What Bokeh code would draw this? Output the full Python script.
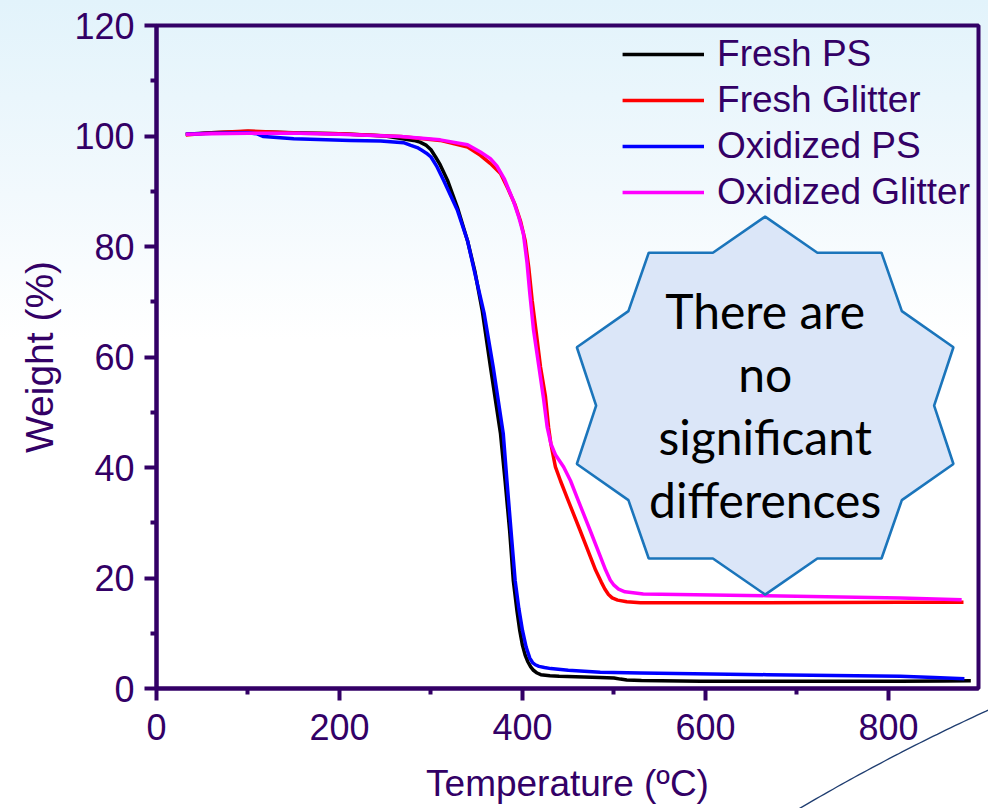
import base64
import numpy as np
from bokeh.plotting import figure
from bokeh.models import Range1d, FixedTicker, Legend, LegendItem
from bokeh.core.properties import value
from bokeh.embed import file_html
from bokeh.resources import INLINE

# ---------------- data ----------------
fresh_ps_t = [32, 60, 100, 150, 200, 250, 281, 288, 295, 300, 305, 310, 318, 329, 340, 348, 356, 365,
              372, 376, 381, 386, 390, 394, 397, 400, 403, 406, 409, 412, 416, 420, 430, 440, 485, 500,
              507, 514, 530, 595, 700, 813, 860, 890]
fresh_ps_w = [100.3, 100.6, 100.8, 100.6, 100.4, 100.0, 99.2, 98.9, 98.3, 97.5, 96.2, 94.8, 92.0, 87.0,
              81.0, 75.5, 68.4, 58.2, 50.5, 46.1, 37.6, 28.5, 19.5, 14.0, 10.5, 7.8, 6.0, 4.8, 3.9, 3.3,
              2.8, 2.5, 2.3, 2.2, 2.0, 1.9, 1.7, 1.55, 1.45, 1.3, 1.3, 1.3, 1.35, 1.4]

fresh_gl_t = [32, 60, 100, 157, 200, 267, 310, 340, 354, 365, 376, 384, 392, 398, 403, 407, 410.6, 415,
              419.7, 425, 428.5, 431, 436, 441.5, 450, 463, 480, 486, 490, 494, 498, 504, 514, 529, 667,
              813, 882]
fresh_gl_w = [100.2, 100.6, 100.9, 100.5, 100.4, 99.9, 99.2, 98.0, 96.5, 95.0, 93.2, 90.5, 87.5, 84.5,
              81.0, 76.0, 70.2, 64.5, 58.2, 53.0, 47.3, 44.3, 40.1, 37.6, 34.0, 28.6, 21.4, 19.3, 18.0,
              17.0, 16.4, 16.0, 15.7, 15.5, 15.5, 15.6, 15.6]

oxid_ps_t = [32, 60, 100, 110, 117, 150, 212, 245, 270, 278, 285, 290, 295, 300, 306, 314, 329, 340, 349,
             358, 368, 379, 383, 388, 392, 396, 400, 404, 408, 411, 414, 418, 424, 431, 450, 485, 529,
             667, 813, 850, 883]
oxid_ps_w = [100.3, 100.5, 100.6, 100.4, 99.9, 99.5, 99.2, 99.1, 98.8, 98.3, 97.9, 97.4, 96.9, 96.2,
             94.6, 91.9, 86.5, 81.0, 74.4, 68.0, 58.2, 46.1, 37.6, 27.5, 19.5, 14.5, 10.5, 7.5, 5.5, 4.7,
             4.3, 4.0, 3.8, 3.6, 3.3, 2.95, 2.8, 2.5, 2.2, 2.0, 1.75]

oxid_gl_t = [32, 60, 100, 157, 200, 267, 310, 340, 354, 365, 372, 380, 390, 396, 401, 405, 408, 412, 418,
             423, 427, 431, 436, 445, 452.5, 461, 474, 491, 496, 500, 505, 512, 532, 667, 813, 880]
oxid_gl_w = [100.3, 100.4, 100.5, 100.5, 100.3, 99.9, 99.3, 98.4, 97.1, 95.9, 94.6, 92.3, 88.3, 85.3,
             82.3, 77.0, 71.5, 65.0, 58.2, 52.5, 47.3, 44.3, 42.3, 40.1, 37.6, 34.0, 28.6, 21.4, 19.6,
             18.7, 18.0, 17.5, 17.1, 16.8, 16.4, 16.05]

series_names = ["Fresh PS", "Fresh Glitter", "Oxidized PS", "Oxidized Glitter"]
series_colors = ["#000000", "#ff0000", "#0000ff", "#ff00ff"]

x_ticks = [0, 200, 400, 600, 800]
x_minor = [100, 300, 500, 700]
y_ticks = [0, 20, 40, 60, 80, 100, 120]
y_minor = [10, 30, 50, 70, 90, 110]

star_lines = ["There are", "no", "significant", "differences"]

# ---------------- styling ----------------
PURPLE = "#330066"
FONT = "Liberation Sans"
W, H = 988, 808

# slide decoration: thin arc at the bottom-right corner (CSS background, not data)
ccx, ccy, crad = 1843.0, 2580.0, 2056.0
th = np.linspace(np.arctan2(830 - ccy, 760 - ccx), np.arctan2(680 - ccy, 1010 - ccx), 60)
pts = " ".join(f"{ccx + crad*np.cos(a):.1f},{ccy + crad*np.sin(a):.1f}" for a in th)
svg = (f'<svg xmlns="http://www.w3.org/2000/svg" width="{W}" height="{H}">'
       f'<polyline points="{pts}" fill="none" stroke="#1f3d70" stroke-width="1.3"/></svg>')
svg_url = "data:image/svg+xml;base64," + base64.b64encode(svg.encode()).decode()

p = figure(width=W, height=H, output_backend="svg", toolbar_location=None,
           x_range=Range1d(0, 898.4), y_range=Range1d(0, 120),
           min_border_left=156, min_border_right=10, min_border_top=25, min_border_bottom=120)
p.background_fill_color = None
p.border_fill_color = None
p.styles = {"background": f'url("{svg_url}") 0 0 / {W}px {H}px no-repeat, '
                          "linear-gradient(180deg, #e2f3fb 0%, #f2f9fd 24%, #ffffff 42%)"}
p.grid.visible = False
p.outline_line_color = PURPLE
p.outline_line_width = 4
p.outline_line_alpha = 1.0

p.xaxis.ticker = FixedTicker(ticks=x_ticks, minor_ticks=x_minor)
p.yaxis.ticker = FixedTicker(ticks=y_ticks, minor_ticks=y_minor)
p.xaxis.axis_label = "Temperature (ºC)"
p.yaxis.axis_label = "Weight (%)"
for ax in (p.xaxis[0], p.yaxis[0]):
    ax.axis_line_color = PURPLE
    ax.axis_line_width = 4
    ax.major_tick_line_color = PURPLE
    ax.major_tick_line_width = 4
    ax.major_tick_out = 12
    ax.major_tick_in = 0
    ax.minor_tick_line_color = PURPLE
    ax.minor_tick_line_width = 4
    ax.minor_tick_out = 6
    ax.minor_tick_in = 0
    ax.major_label_text_font = FONT
    ax.major_label_text_font_size = "36px"
    ax.major_label_text_color = PURPLE
    ax.axis_label_text_font = FONT
    ax.axis_label_text_font_style = "normal"
    ax.axis_label_text_color = PURPLE
p.xaxis.axis_label_text_font_size = "37px"
p.yaxis.axis_label_text_font_size = "39px"
p.xaxis.major_label_standoff = 13
p.xaxis.axis_label_standoff = 20
p.yaxis.major_label_standoff = 10
p.yaxis.axis_label_standoff = 10

# ---------------- curves ----------------
data = [(fresh_ps_t, fresh_ps_w), (fresh_gl_t, fresh_gl_w), (oxid_ps_t, oxid_ps_w), (oxid_gl_t, oxid_gl_w)]
renderers = []
for (t, w), col in zip(data, series_colors):
    r = p.line(t, w, line_color=col, line_width=3.5, line_join="round")
    renderers.append(r)

legend = Legend(items=[LegendItem(label=n, renderers=[r]) for n, r in zip(series_names, renderers)],
                location="top_right", margin=0, padding=8, spacing=4,
                glyph_width=82, glyph_height=40, label_standoff=13,
                label_text_font=FONT, label_text_font_size="37px", label_text_color=PURPLE,
                border_line_alpha=0, background_fill_alpha=0)
p.add_layout(legend)

# ---------------- 10-point star callout ----------------
star_cx, star_cy = 665.2, 51.2
outer_rx, outer_ry = 216.4, 34.2
inner_rx, inner_ry = 184.7, 29.1
k = np.arange(20)
ang = np.deg2rad(k * 18.0)
rx = np.where(k % 2 == 0, outer_rx, inner_rx)
ry = np.where(k % 2 == 0, outer_ry, inner_ry)
p.patch(star_cx + rx * np.sin(ang), star_cy + ry * np.cos(ang),
        fill_color="#dbe6f8", line_color="#1b75bb", line_width=2.6)

line_step = 11.4
ys = [star_cy + 17.2 - i * line_step for i in range(len(star_lines))]
p.text(x=[star_cx] * len(star_lines), y=ys, text=star_lines,
       text_font=value("Lato"), text_font_size="48px", text_align="center",
       text_baseline="alphabetic", text_color="#000000")

open("out.html", "w").write(file_html(p, INLINE))
